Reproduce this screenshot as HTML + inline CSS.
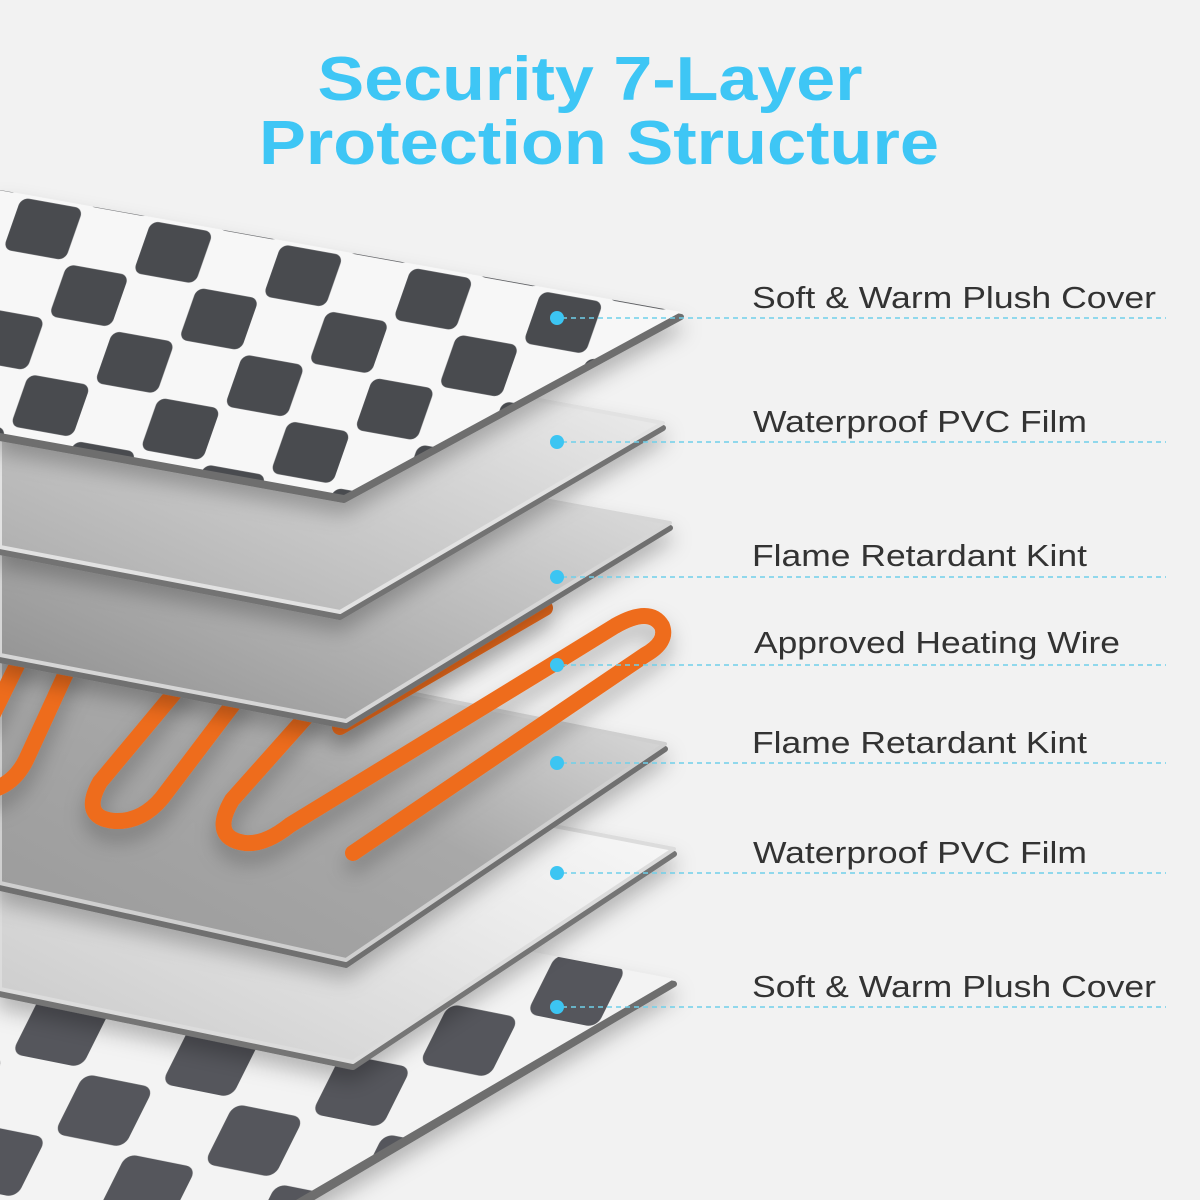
<!DOCTYPE html>
<html><head><meta charset="utf-8"><style>html,body{margin:0;padding:0;background:#f2f2f2}svg{display:block}</style></head>
<body>
<svg width="1200" height="1200" viewBox="0 0 1200 1200" xmlns="http://www.w3.org/2000/svg">
<defs>
<pattern id="pl1" patternUnits="userSpaceOnUse" width="130" height="110" patternTransform="matrix(1,0.18,-0.35,1,20,195)">
<rect width="130" height="110" fill="#f7f7f7"/>
<rect x="2" y="2" width="62" height="52" rx="8" fill="#4a4c50"/>
<rect x="67" y="57" width="62" height="52" rx="8" fill="#4a4c50"/>
</pattern>
<pattern id="pl2" patternUnits="userSpaceOnUse" width="150" height="130" patternTransform="matrix(1,0.2,-0.5,1,40,990)">
<rect width="150" height="130" fill="#f3f3f3"/>
<rect x="3" y="3" width="70" height="60" rx="10" fill="#55575b"/>
<rect x="78" y="68" width="70" height="60" rx="10" fill="#55575b"/>
</pattern>
<linearGradient id="g2" x1="0" y1="1" x2="1" y2="0"><stop offset="0" stop-color="#a9a9a9"/><stop offset="0.6" stop-color="#d8d8d8"/><stop offset="1" stop-color="#fafafa"/></linearGradient>
<linearGradient id="g3" x1="0" y1="1" x2="1" y2="0"><stop offset="0" stop-color="#8c8c8c"/><stop offset="0.6" stop-color="#c4c4c4"/><stop offset="1" stop-color="#ececec"/></linearGradient>
<linearGradient id="g5" x1="0" y1="1" x2="1" y2="0"><stop offset="0" stop-color="#9a9a9a"/><stop offset="0.5" stop-color="#a8a8a8"/><stop offset="1" stop-color="#f0f0f0"/></linearGradient>
<linearGradient id="g6" x1="0" y1="1" x2="1" y2="0"><stop offset="0" stop-color="#c8c8c8"/><stop offset="0.6" stop-color="#ececec"/><stop offset="1" stop-color="#ffffff"/></linearGradient>
<filter id="sh" x="-20%" y="-20%" width="140%" height="160%"><feDropShadow dx="0" dy="12" stdDeviation="10" flood-color="#000" flood-opacity="0.25"/></filter>
</defs>
<rect width="1200" height="1200" fill="#f2f2f2"/>

<!-- Layer 7 plush -->
<g filter="url(#sh)">
<polygon points="0,855 674,984 300,1205 0,1205" fill="#6e6e6e" stroke="#6e6e6e" stroke-width="6" stroke-linejoin="round"/>
<polygon points="0,850 674,979 296,1200 0,1200" fill="url(#pl2)"/>
</g>
<!-- Layer 6 -->
<g filter="url(#sh)">
<polygon points="0,725 674,854 353,1067 0,994" fill="#747474" stroke="#747474" stroke-width="6" stroke-linejoin="round"/>
<polygon points="0,720 674,849 353,1062 0,989" fill="url(#g6)" stroke="#dcdcdc" stroke-width="4" stroke-linejoin="round"/>
</g>
<!-- Layer 5 -->
<g filter="url(#sh)">
<polygon points="0,616 665,749 346,965 0,888" fill="#707070" stroke="#707070" stroke-width="6" stroke-linejoin="round"/>
<polygon points="0,611 665,744 346,960 0,883" fill="url(#g5)" stroke="#cfcfcf" stroke-width="4" stroke-linejoin="round"/>
</g>
<!-- wire -->
<g fill="none" stroke="#ee6c1c" stroke-width="16" stroke-linecap="round" stroke-linejoin="round" filter="url(#sh)">
<path d="M22,655 L-10,720"/>
<path d="M72,660 L26,760 Q10,792 -25,792"/>
<path d="M185,680 L100,782 Q80,818 115,821 Q142,822 162,798 L240,695"/>
<path d="M330,690 L232,800 Q210,838 245,843 Q265,845 290,825 L555,663 L615,626 Q650,606 662,626 Q668,642 645,655 L353,853"/>
<path d="M545,608 L340,727"/>
</g>
<!-- Layer 3 -->
<g filter="url(#sh)">
<polygon points="0,405 670,528 346,726 0,660" fill="#707070" stroke="#707070" stroke-width="6" stroke-linejoin="round"/>
<polygon points="0,400 670,523 346,721 0,655" fill="url(#g3)" stroke="#d6d6d6" stroke-width="4" stroke-linejoin="round"/>
</g>
<!-- Layer 2 -->
<g filter="url(#sh)">
<polygon points="0,305 663,428 340,617 0,552" fill="#737373" stroke="#737373" stroke-width="6" stroke-linejoin="round"/>
<polygon points="0,300 663,423 340,612 0,547" fill="url(#g2)" stroke="#e2e2e2" stroke-width="4" stroke-linejoin="round"/>
</g>
<!-- Layer 1 plush -->
<g filter="url(#sh)">
<polygon points="0,195 681,317 344,500 0,438" fill="#6e6e6e" stroke="#6e6e6e" stroke-width="6" stroke-linejoin="round"/>
<polygon points="0,190 681,312 344,495 0,433" fill="url(#pl1)"/>
</g>

<!-- title -->
<g font-family="'Liberation Sans', sans-serif" font-weight="bold" fill="#3ec6f5" text-anchor="middle">
<text x="590" y="100" font-size="62" textLength="545" lengthAdjust="spacingAndGlyphs">Security 7-Layer</text>
<text x="599" y="164" font-size="62" textLength="680" lengthAdjust="spacingAndGlyphs">Protection Structure</text>
</g>

<!-- leaders -->
<g stroke="#6fd0ea" stroke-width="1.5" stroke-dasharray="5,4">
<line x1="562" y1="318" x2="1166" y2="318"/>
<line x1="562" y1="442" x2="1166" y2="442"/>
<line x1="562" y1="577" x2="1166" y2="577"/>
<line x1="562" y1="665" x2="1166" y2="665"/>
<line x1="562" y1="763" x2="1166" y2="763"/>
<line x1="562" y1="873" x2="1166" y2="873"/>
<line x1="562" y1="1007" x2="1166" y2="1007"/>
</g>
<g fill="#3cc5f2">
<circle cx="557" cy="318" r="7"/><circle cx="557" cy="442" r="7"/><circle cx="557" cy="577" r="7"/>
<circle cx="557" cy="665" r="7"/><circle cx="557" cy="763" r="7"/><circle cx="557" cy="873" r="7"/>
<circle cx="557" cy="1007" r="7"/>
</g>
<g font-family="'Liberation Sans', sans-serif" font-size="31" fill="#333">
<text x="752" y="308" textLength="404" lengthAdjust="spacingAndGlyphs">Soft &amp; Warm Plush Cover</text>
<text x="753" y="432" textLength="334" lengthAdjust="spacingAndGlyphs">Waterproof PVC Film</text>
<text x="752" y="566" textLength="335" lengthAdjust="spacingAndGlyphs">Flame Retardant Kint</text>
<text x="754" y="653" textLength="366" lengthAdjust="spacingAndGlyphs">Approved Heating Wire</text>
<text x="752" y="753" textLength="335" lengthAdjust="spacingAndGlyphs">Flame Retardant Kint</text>
<text x="753" y="863" textLength="334" lengthAdjust="spacingAndGlyphs">Waterproof PVC Film</text>
<text x="752" y="997" textLength="404" lengthAdjust="spacingAndGlyphs">Soft &amp; Warm Plush Cover</text>
</g>
</svg>
</body></html>
